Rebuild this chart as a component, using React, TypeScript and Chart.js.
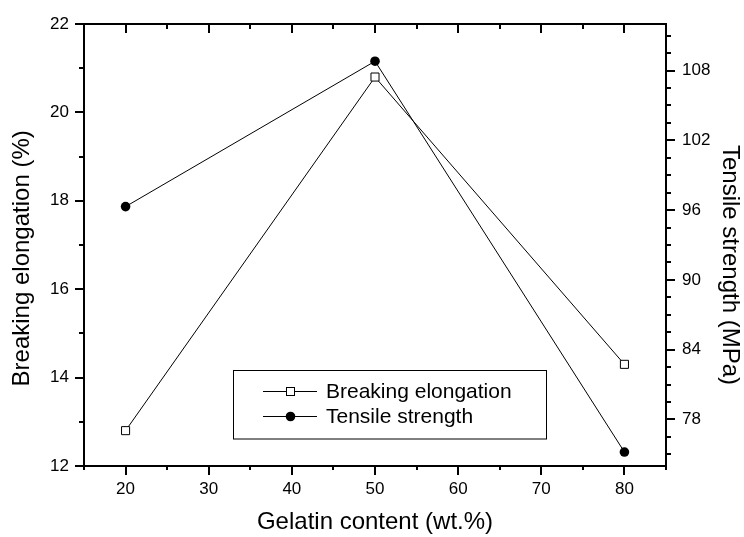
import React, { useEffect, useRef } from "react";
import { Chart, registerables } from "chart.js";

Chart.register(...registerables);

const gelatinContent = [20, 50, 80];
const breakingElongation = [12.8, 20.8, 14.3];
const tensileStrength = [96.3, 108.8, 75.2];

const xMajorTicks = [20, 30, 40, 50, 60, 70, 80];
const xMinorTicks = [15, 25, 35, 45, 55, 65, 75, 85];
const leftMajorTicks = [12, 14, 16, 18, 20, 22];
const leftMinorTicks = [13, 15, 17, 19, 21];
const rightMajorTicks = [78, 84, 90, 96, 102, 108];
const rightMinorTicks = [75, 76.5, 79.5, 81, 82.5, 85.5, 87, 88.5, 91.5, 93, 94.5, 97.5, 99, 100.5, 103.5, 105, 106.5, 109.5, 111];

const FONT = "Arial, 'Liberation Sans', Helvetica, sans-serif";

const axisExtras = {
  id: "axisExtras",
  afterDraw(chart: any) {
    const ctx = chart.ctx;
    const { left, right, top, bottom } = chart.chartArea;
    const xs = chart.scales.x;
    const ys = chart.scales.y;
    const y2 = chart.scales.y2;
    ctx.save();
    ctx.strokeStyle = "#000";
    ctx.lineWidth = 2;
    const seg = (x1: number, y1: number, x2: number, y2v: number) => {
      ctx.beginPath();
      ctx.moveTo(x1, y1);
      ctx.lineTo(x2, y2v);
      ctx.stroke();
    };
    // top frame line
    seg(left - 1, top, right + 1, top);
    // x minor ticks (bottom outward) and top inward ticks
    xMinorTicks.forEach((v) => {
      const px = Math.round(xs.getPixelForValue(v));
      seg(px, bottom, px, bottom + 4);
      seg(px, top, px, top + 5);
    });
    xMajorTicks.forEach((v) => {
      const px = Math.round(xs.getPixelForValue(v));
      seg(px, top, px, top + 9);
    });
    leftMinorTicks.forEach((v) => {
      const py = Math.round(ys.getPixelForValue(v));
      seg(left - 5, py, left, py);
    });
    rightMinorTicks.forEach((v) => {
      const py = Math.round(y2.getPixelForValue(v));
      seg(right, py, right + 5, py);
    });

    // legend
    const bx = 233.5, by = 370.5, bw = 313, bh = 68.5;
    ctx.lineWidth = 1;
    ctx.strokeRect(bx, by, bw, bh);
    const rows = [391, 416];
    chart.data.datasets.forEach((ds: any, i: number) => {
      const yy = rows[i];
      ctx.strokeStyle = ds.borderColor;
      ctx.lineWidth = 1;
      seg(263, yy + 0.5, 317, yy + 0.5);
      if (ds.pointStyle === "rect") {
        ctx.fillStyle = "#fff";
        ctx.fillRect(286, yy - 3.5, 8, 8);
        ctx.strokeRect(286.5, yy - 3.5, 8, 8);
      } else {
        ctx.fillStyle = "#000";
        ctx.beginPath();
        ctx.arc(290.5, yy + 0.5, ds.pointRadius, 0, Math.PI * 2);
        ctx.fill();
      }
      ctx.fillStyle = "#000";
      ctx.font = `21px ${FONT}`;
      ctx.textBaseline = "middle";
      ctx.textAlign = "left";
      ctx.fillText(ds.label, 326, yy + 1);
    });
    ctx.restore();
  },
};

export default function App() {
  const ref = useRef<HTMLCanvasElement | null>(null);

  useEffect(() => {
    if (!ref.current) return;
    const tickFont = { family: FONT, size: 17 };
    const titleFont = { family: FONT, size: 24 };
    const gridCfg = {
      display: true,
      drawOnChartArea: false,
      drawTicks: true,
      tickLength: 9,
      color: "#000",
      lineWidth: 2,
      tickWidth: 2,
    };
    const borderCfg = { display: true, color: "#000", width: 2 };
    const chart = new Chart(ref.current, {
      type: "line",
      data: {
        datasets: [
          {
            label: "Breaking elongation",
            data: gelatinContent.map((x, i) => ({ x, y: breakingElongation[i] })),
            yAxisID: "y",
            borderColor: "#000",
            borderWidth: 1,
            pointStyle: "rect",
            pointRadius: 5.7,
            pointBackgroundColor: "#fff",
            pointBorderColor: "#000",
            pointBorderWidth: 1,
            fill: false,
            tension: 0,
          },
          {
            label: "Tensile strength",
            data: gelatinContent.map((x, i) => ({ x, y: tensileStrength[i] })),
            yAxisID: "y2",
            borderColor: "#000",
            borderWidth: 1,
            pointStyle: "circle",
            pointRadius: 4.8,
            pointBackgroundColor: "#000",
            pointBorderColor: "#000",
            pointBorderWidth: 0,
            fill: false,
            tension: 0,
          },
        ],
      },
      options: {
        animation: false,
        responsive: false,
        maintainAspectRatio: false,
        layout: { padding: { top: 24, left: 0, right: 0, bottom: 0 } },
        plugins: {
          legend: { display: false },
          tooltip: { enabled: false },
        },
        scales: {
          x: {
            type: "linear",
            position: "bottom",
            min: 15,
            max: 85,
            afterBuildTicks: (s: any) => {
              s.ticks = xMajorTicks.map((v) => ({ value: v }));
            },
            afterFit: (s: any) => {
              s.height = 71;
            },
            grid: gridCfg,
            border: borderCfg,
            ticks: { color: "#000", font: tickFont, padding: 4, maxRotation: 0, autoSkip: false },
            title: {
              display: true,
              text: "Gelatin content (wt.%)",
              color: "#000",
              font: titleFont,
              padding: { top: 0, bottom: 0 },
            },
          },
          y: {
            type: "linear",
            position: "left",
            min: 12,
            max: 22,
            afterBuildTicks: (s: any) => {
              s.ticks = leftMajorTicks.map((v) => ({ value: v }));
            },
            afterFit: (s: any) => {
              s.width = 84;
            },
            grid: gridCfg,
            border: borderCfg,
            ticks: { color: "#000", font: tickFont, padding: 6, autoSkip: false },
            title: {
              display: true,
              text: "Breaking elongation (%)    ",
              color: "#000",
              font: titleFont,
              padding: { top: 8, bottom: 0 },
            },
          },
          y2: {
            type: "linear",
            position: "right",
            min: 74,
            max: 112,
            afterBuildTicks: (s: any) => {
              s.ticks = rightMajorTicks.map((v) => ({ value: v }));
            },
            afterFit: (s: any) => {
              s.width = 78;
            },
            grid: gridCfg,
            border: borderCfg,
            ticks: { color: "#000", font: tickFont, padding: 7, autoSkip: false },
            title: {
              display: true,
              text: "      Tensile strength (MPa)",
              color: "#000",
              font: titleFont,
              padding: { top: 0, bottom: 0 },
            },
          },
        },
      } as any,
      plugins: [axisExtras],
    });
    return () => chart.destroy();
  }, []);

  return (
    <div style={{ position: "absolute", left: 0, top: 0, width: 744, height: 537, background: "#fff" }}>
      <canvas ref={ref} width={744} height={537} style={{ display: "block" }} />
    </div>
  );
}
